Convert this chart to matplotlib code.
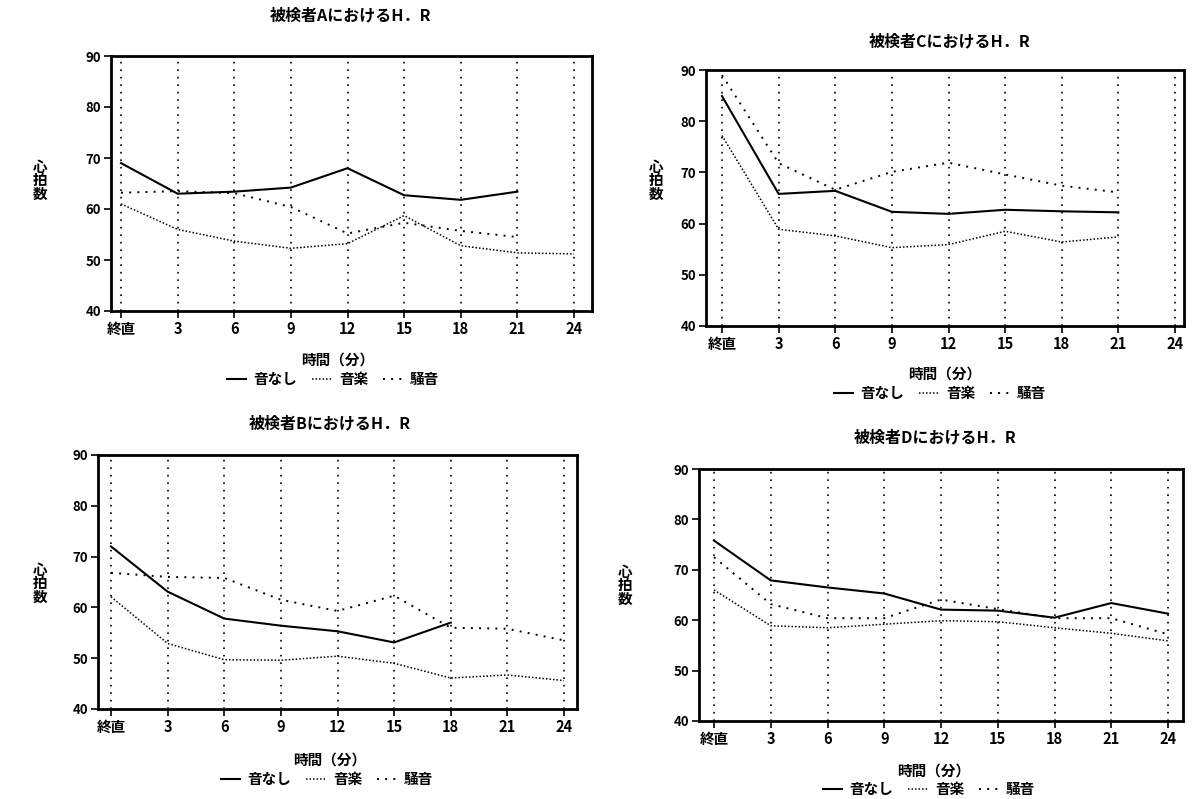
import matplotlib
matplotlib.use('Agg')
import matplotlib.pyplot as plt

plt.rcParams['font.family'] = ['Noto Sans CJK JP', 'DejaVu Sans']
plt.rcParams['font.weight'] = 'bold'

# ── Data ──────────────────────────────────────────────────────────────────────
times = [0, 3, 6, 9, 12, 15, 18, 21, 24]
tick_labels = ['終直', '3', '6', '9', '12', '15', '18', '21', '24']
series_names = ['音なし', '音楽', '騒音']

a_none  = [69.0, 63.0, 63.4, 64.2, 68.0, 62.7, 61.8, 63.4]
a_music = [61.0, 56.0, 53.7, 52.3, 53.2, 58.7, 52.8, 51.4, 51.2]
a_noise = [63.2, 63.5, 63.1, 60.4, 55.2, 57.3, 55.7, 54.5]

b_none  = [72.0, 63.1, 57.8, 56.4, 55.3, 53.1, 57.0]
b_music = [62.1, 52.9, 49.7, 49.6, 50.4, 49.0, 46.1, 46.7, 45.6]
b_noise = [66.8, 66.0, 65.8, 61.5, 59.3, 62.3, 56.0, 55.8, 53.5]

c_none  = [84.9, 65.8, 66.4, 62.3, 61.9, 62.7, 62.4, 62.2]
c_music = [77.2, 58.9, 57.6, 55.3, 55.9, 58.5, 56.4, 57.4]
c_noise = [89.0, 71.8, 66.6, 70.1, 71.9, 69.6, 67.4, 66.1]

d_none  = [75.8, 67.9, 66.5, 65.3, 62.1, 61.9, 60.5, 63.4, 61.3]
d_music = [66.0, 58.9, 58.5, 59.2, 59.9, 59.7, 58.5, 57.4, 55.9]
d_noise = [72.5, 63.2, 60.4, 60.4, 64.1, 62.2, 60.4, 60.4, 57.2]

# ── Layout (pixels) ───────────────────────────────────────────────────────────
W, H = 1196, 799
# subject, series, box (l, t, r, b), first/last tick px, title xy, xlabel xy, legend xy, ylabel xy
panels = [
    ('A', (a_none, a_music, a_noise), (111, 56, 592, 311), (121, 574),
     (350, 15), (338, 360), (333, 379), (40, 180)),
    ('C', (c_none, c_music, c_noise), (706, 70, 1184, 326), (722, 1175),
     (950, 41), (945, 374), (940, 393), (656, 180)),
    ('B', (b_none, b_music, b_noise), (98, 455, 577, 709), (111, 564),
     (330, 423), (330, 760), (327, 779), (40, 583)),
    ('D', (d_none, d_music, d_noise), (699, 469, 1183, 721), (714, 1168),
     (935, 437), (934, 771), (929, 789), (625, 585)),
]

STYLES = [
    dict(color='black', lw=1.5, ls='-'),
    dict(color='black', lw=1.1, ls=(0, (1, 1.3))),
    dict(color='black', lw=1.4, ls=(0, (1, 3.2))),
]

fig = plt.figure(figsize=(W / 100, H / 100), dpi=100)
fig.patch.set_facecolor('white')

for name, data, (l, t, r, b), (t0, t24), title_xy, xl_xy, lg_xy, yl_xy in panels:
    ax = fig.add_axes([l / W, 1 - b / H, (r - l) / W, (b - t) / H])
    s = (t24 - t0) / 24.0
    ax.set_xlim((l - t0) / s, 24 + (r - t24) / s)
    ax.set_ylim(40, 90)

    handles = []
    for vals, st, lab in zip(data, STYLES, series_names):
        ln, = ax.plot(times[:len(vals)], vals, label=lab, **st)
        handles.append(ln)

    # vertical dotted grid at every time tick
    for x in times:
        ax.axvline(x, color='black', lw=1.2, ls=(0, (1, 3.5)), zorder=0)

    ax.set_xticks(times)
    ax.set_xticklabels(tick_labels, fontsize=10.5, fontweight='bold')
    ax.set_yticks([40, 50, 60, 70, 80, 90])
    ax.set_yticklabels(['40', '50', '60', '70', '80', '90'], fontsize=9.5, fontweight='bold')
    ax.tick_params(direction='out', length=5, width=1.2, pad=2)
    for sp in ax.spines.values():
        sp.set_linewidth(2.0)

    fig.text(title_xy[0] / W, 1 - title_xy[1] / H, f'被検者{name}におけるH．R',
             ha='center', va='center', fontsize=11.5, fontweight='bold')
    fig.text(xl_xy[0] / W, 1 - xl_xy[1] / H, '時間（分）',
             ha='center', va='center', fontsize=10.5, fontweight='bold')
    fig.text(yl_xy[0] / W, 1 - yl_xy[1] / H, '心\n拍\n数',
             ha='center', va='center', fontsize=10.5, fontweight='bold', linespacing=0.8)
    fig.legend(handles=handles, loc='center',
               bbox_to_anchor=(lg_xy[0] / W, 1 - lg_xy[1] / H),
               ncol=3, frameon=False, fontsize=10.5, handlelength=1.35,
               handletextpad=0.5, columnspacing=1.0, borderpad=0, borderaxespad=0)

fig.savefig('out.png', dpi=100, facecolor='white')
